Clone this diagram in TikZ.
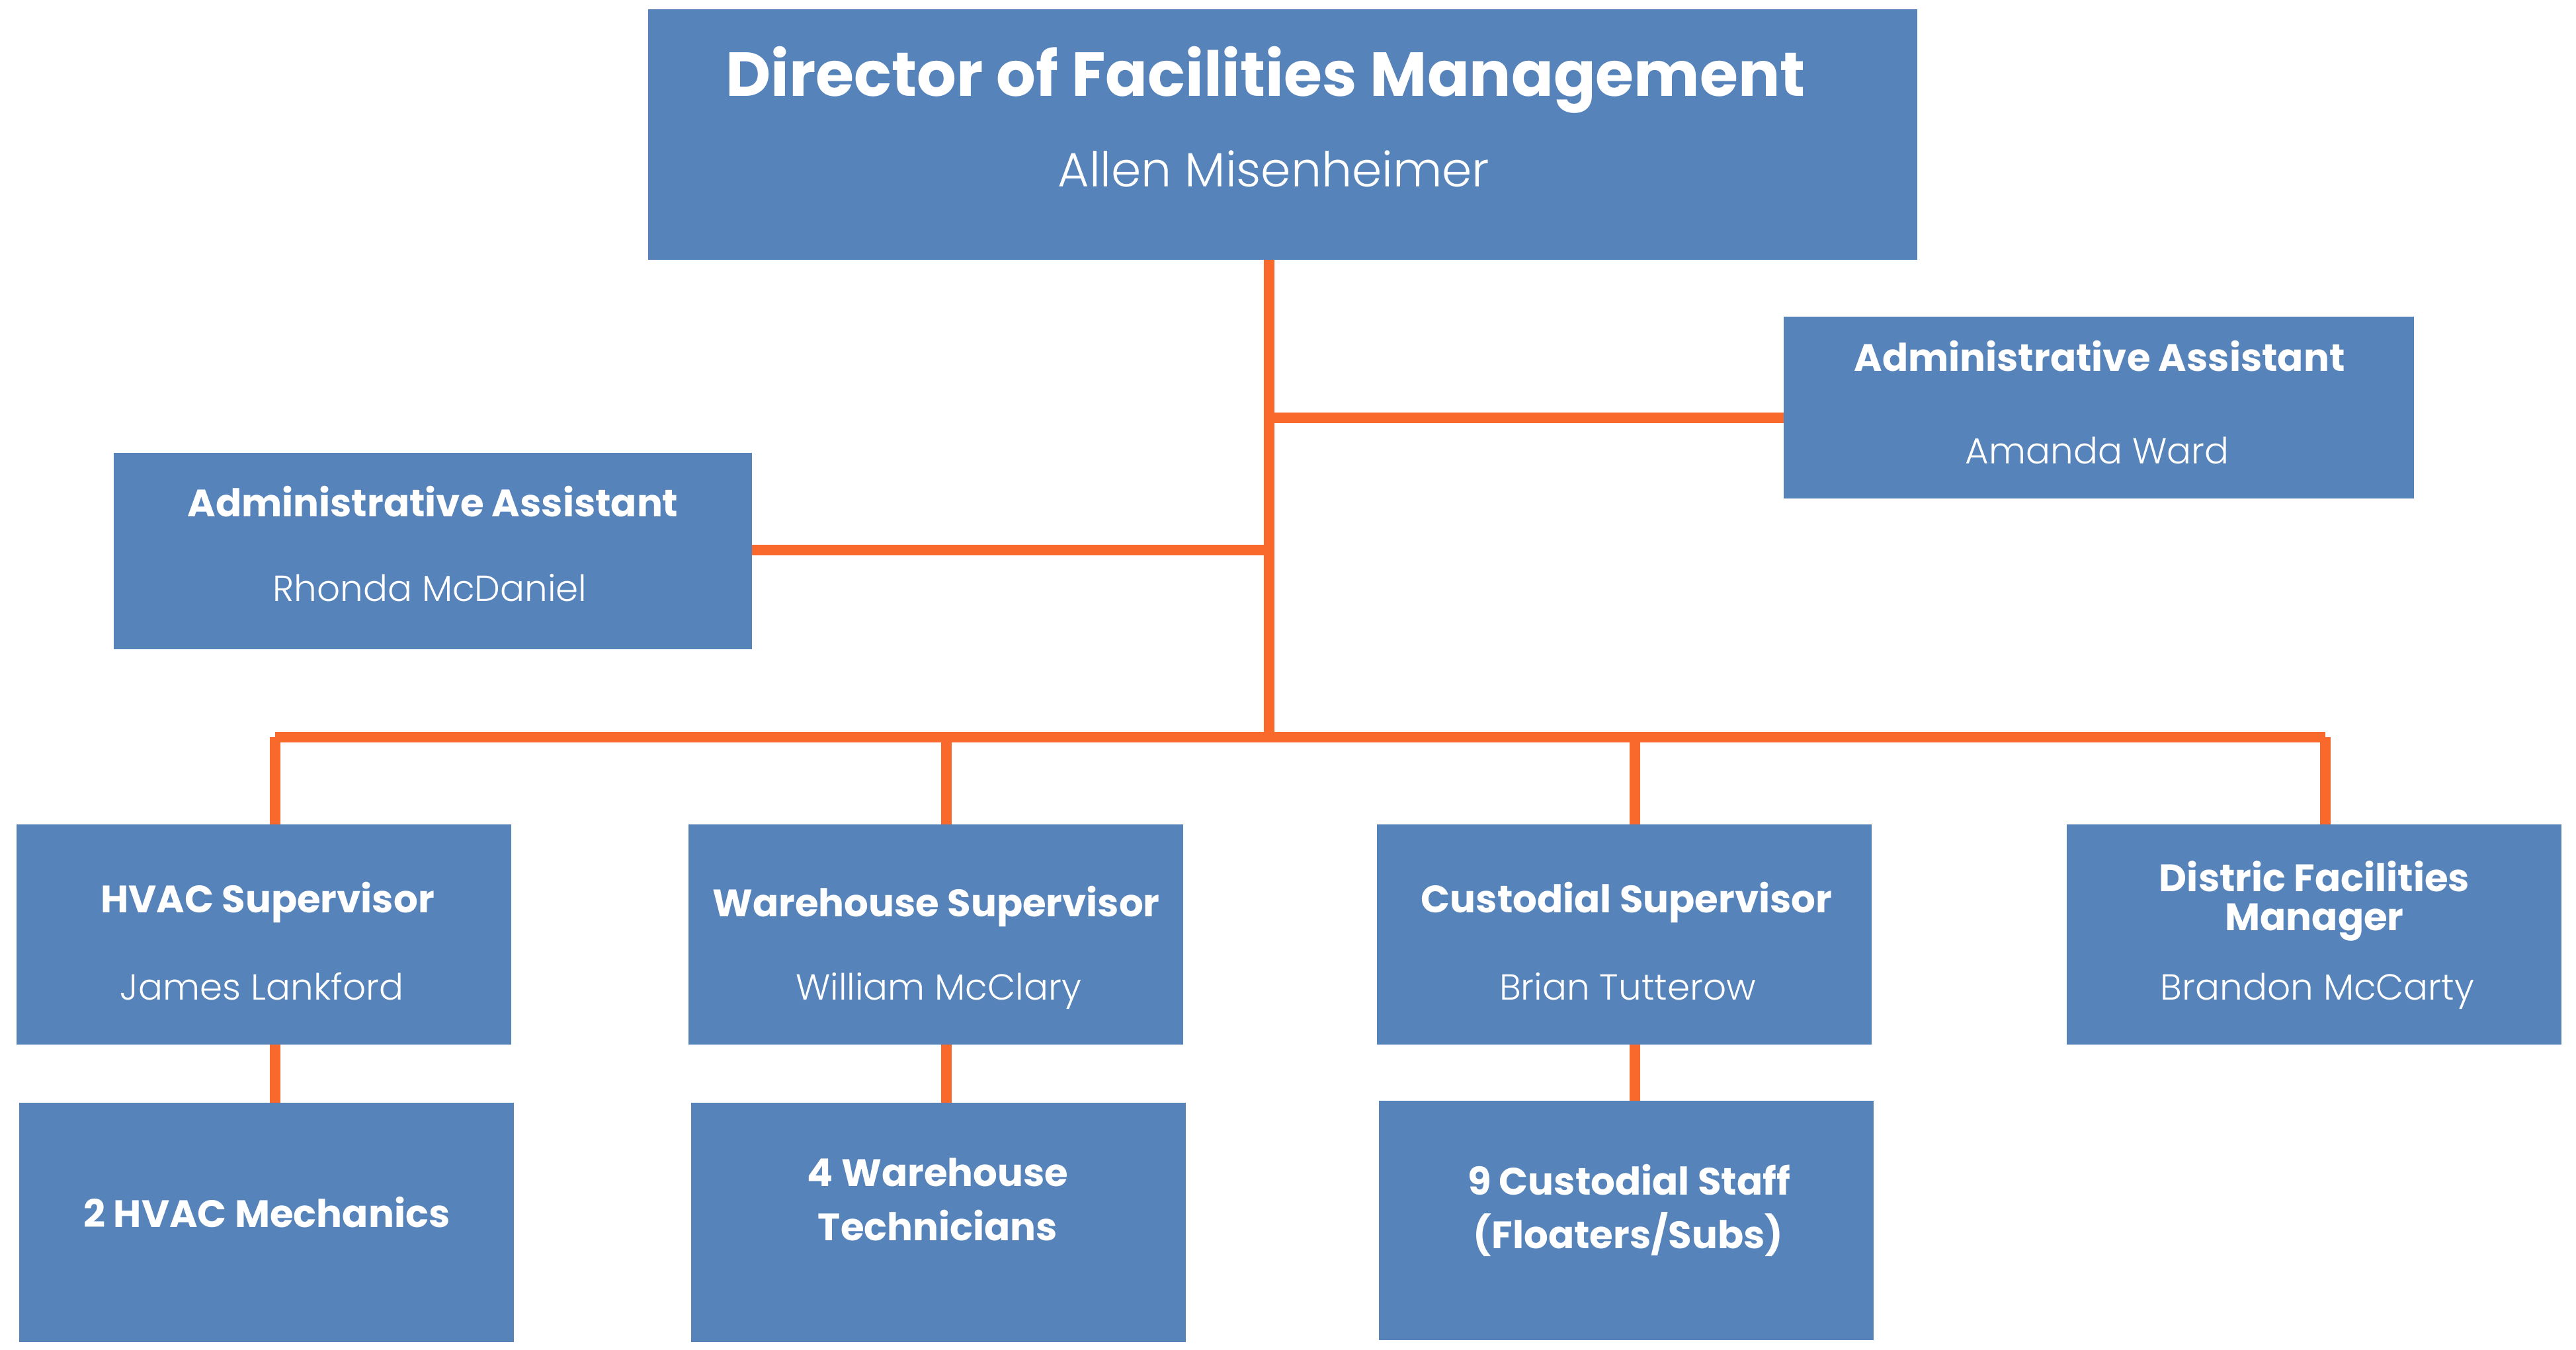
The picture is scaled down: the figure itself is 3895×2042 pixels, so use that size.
\documentclass[tikz,border=0pt]{standalone}
\usepackage{fontspec}
\setmainfont{Poppins}
\IfFontExistsTF{Poppins Light}{\newfontfamily\namefont{Poppins Light}}{\newfontfamily\namefont{Poppins}}
\definecolor{boxblue}{HTML}{5683B9}
\definecolor{linkorange}{HTML}{F9692B}
\tikzset{
  orgbox/.style={rectangle, fill=boxblue, draw=none, inner sep=0pt, outer sep=0pt},
  supbox/.style={orgbox, minimum width=187pt, minimum height=83.25pt},
  subbox/.style={orgbox, minimum width=187pt, minimum height=90.5pt},
  link/.style={draw=linkorange, line width=3.8pt},
  ttl/.style={anchor=base, text=white, inner sep=0pt, font=\bfseries\fontsize{14.45}{17}\selectfont},
  nm/.style={anchor=base, text=white, inner sep=0pt, font=\namefont\fontsize{13.7}{16}\selectfont}
}
\begin{document}
\begin{tikzpicture}[x=0.25pt,y=-0.25pt]
\useasboundingbox[fill=white] (0,0) rectangle (3895,2042);
% boxes
\node[orgbox, minimum width=479.75pt, minimum height=94.75pt] (dir) at (1939.5,203.5) {};
\node[orgbox, minimum width=238.25pt, minimum height=68.75pt] (aar) at (3173.5,616.5) {};
\node[orgbox, minimum width=241.25pt, minimum height=74.25pt] (aal) at (654.5,833.5) {};
\node[supbox] (hvac) at (399,1413.5) {};
\node[supbox] (ware) at (1414.5,1413.5) {};
\node[supbox] (cust) at (2456,1413.5) {};
\node[supbox] (dist) at (3499,1413.5) {};
\node[subbox] (mech) at (403,1849) {};
\node[subbox] (tech) at (1419,1849) {};
\node[subbox] (staff) at (2458.5,1845.5) {};
% connector coordinates
\coordinate (spine) at (1919,1115);
\coordinate (bhv) at (416,1115);
\coordinate (bwa) at (1431,1115);
\coordinate (bcu) at (2472,1115);
\coordinate (bdi) at (3516,1115);
\coordinate (jr) at (1919,632);
\coordinate (jl) at (1919,832);
% connectors
\draw[link] (dir.south -| spine) -- (spine);
\draw[link] (jr) -- (aar.west |- jr);
\draw[link] (aal.east |- jl) -- (jl);
\draw[link] (bhv) -- (bdi);
\draw[link] (bhv) -- (hvac.north -| bhv);
\draw[link] (bwa) -- (ware.north -| bwa);
\draw[link] (bcu) -- (cust.north -| bcu);
\draw[link] (bdi) -- (dist.north -| bdi);
\draw[link] (hvac.south -| bhv) -- (mech.north -| bhv);
\draw[link] (ware.south -| bwa) -- (tech.north -| bwa);
\draw[link] (cust.south -| bcu) -- (staff.north -| bcu);
% texts
\node[ttl, font=\bfseries\fontsize{23.5}{28}\selectfont] (t1) at (1913.5,146) {Director of Facilities Management};
\node[nm, font=\namefont\fontsize{18.2}{21}\selectfont] (n1) at (1926,283) {Allen Misenheimer};
\node[ttl] (t2) at (3174.5,562) {Administrative Assistant};
\node[nm] (n2) at (3171,701) {Amanda Ward};
\node[ttl] (t3) at (654.5,782) {Administrative Assistant};
\node[nm] (n3) at (650,909) {Rhonda McDaniel};
\node[ttl] (t4) at (404.5,1380) {HVAC Supervisor};
\node[nm] (n4) at (396,1512) {James Lankford};
\node[ttl] (t5) at (1415.5,1386) {Warehouse Supervisor};
\node[nm] (n5) at (1419,1512) {William McClary};
\node[ttl] (t6) at (2459.5,1380) {Custodial Supervisor};
\node[nm] (n6) at (2461,1512) {Brian Tutterow};
\node[ttl] (t7a) at (3499.5,1348) {Distric Facilities};
\node[ttl] (t7b) at (3499.5,1407) {Manager};
\node[nm] (n7) at (3504,1512) {Brandon McCarty};
\node[ttl] (t8) at (403.5,1856) {2 HVAC Mechanics};
\node[ttl] (t9a) at (1418,1794) {4 Warehouse};
\node[ttl] (t9b) at (1418,1876) {Technicians};
\node[ttl] (t10a) at (2463,1807) {9 Custodial Staff};
\node[ttl] (t10b) at (2462,1888) {(Floaters/Subs)};
\end{tikzpicture}
\end{document}
